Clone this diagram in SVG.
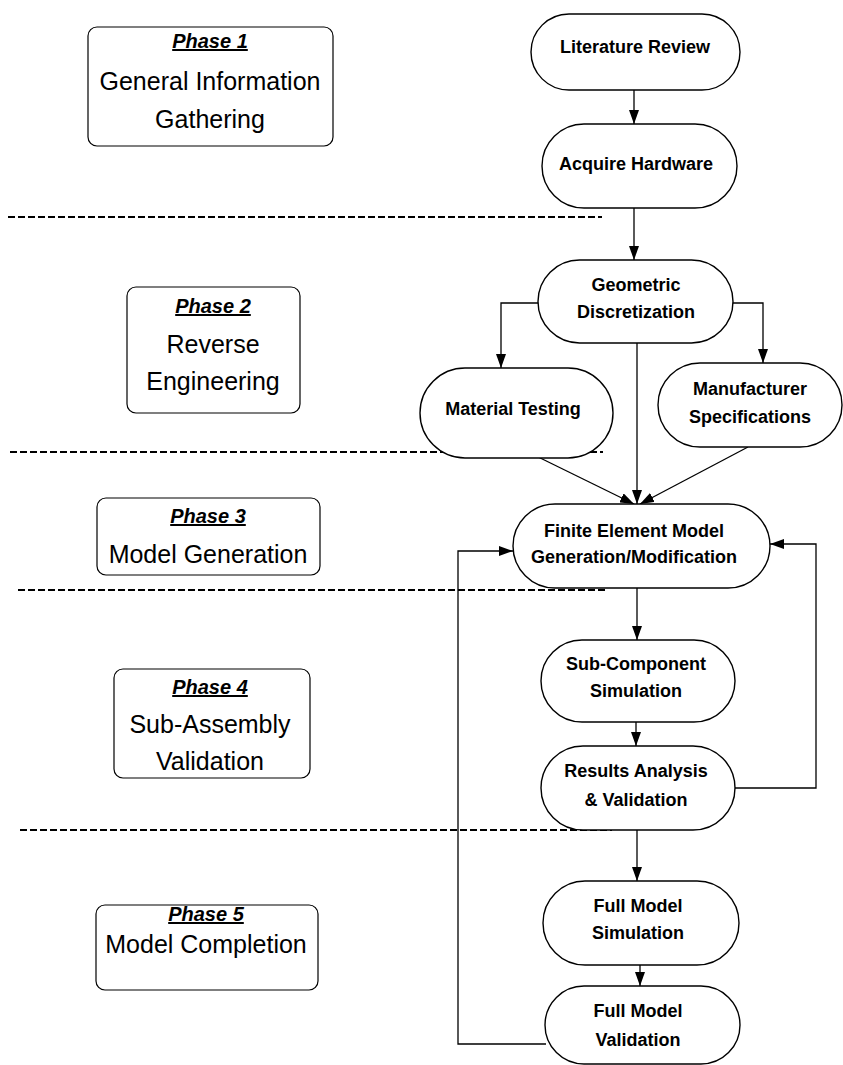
<svg xmlns="http://www.w3.org/2000/svg" width="843" height="1065" viewBox="0 0 843 1065">
<style>
.phase{fill:#fff;stroke:#000;stroke-width:1.2}
.node{fill:#fff;stroke:#000;stroke-width:1.4}
.pt{font-family:"Liberation Sans",Arial,sans-serif;font-size:20px;font-weight:bold;font-style:italic;text-decoration:underline;text-anchor:middle}
.pb{font-family:"Liberation Sans",Arial,sans-serif;font-size:25px;text-anchor:middle}
.nt{font-family:"Liberation Sans",Arial,sans-serif;font-size:18px;font-weight:bold;text-anchor:middle}
.dash{stroke:#000;stroke-width:2;stroke-dasharray:7 3;fill:none}
.conn{stroke:#000;stroke-width:1.3;fill:none;marker-end:url(#arr)}
</style>
<defs>
<marker id="arr" markerWidth="14" markerHeight="10" viewBox="0 0 14 10" refX="14" refY="5" orient="auto" markerUnits="userSpaceOnUse">
<path d="M0,0 L14,5 L0,10 Z" fill="#000"/>
</marker>
</defs>
<rect width="843" height="1065" fill="#fff"/>

<g id="separators">
<line class="dash" x1="8" y1="217" x2="602" y2="217"/>
<line class="dash" x1="10" y1="452" x2="603" y2="452"/>
<line class="dash" x1="18" y1="590" x2="608" y2="590"/>
<line class="dash" x1="20" y1="830" x2="612" y2="830"/>
</g>

<g id="phase1">
<rect class="phase" x="88" y="27" width="245" height="119" rx="9"/>
<text class="pt" x="210" y="48">Phase 1</text>
<text class="pb" x="210" y="90">General Information</text>
<text class="pb" x="210" y="128">Gathering</text>
</g>
<g id="phase2">
<rect class="phase" x="127" y="287" width="173" height="126" rx="9"/>
<text class="pt" x="213" y="313">Phase 2</text>
<text class="pb" x="213" y="353">Reverse</text>
<text class="pb" x="213" y="390">Engineering</text>
</g>
<g id="phase3">
<rect class="phase" x="97" y="498" width="223" height="77" rx="9"/>
<text class="pt" x="208" y="523">Phase 3</text>
<text class="pb" x="208" y="563">Model Generation</text>
</g>
<g id="phase4">
<rect class="phase" x="114" y="669" width="196" height="109" rx="9"/>
<text class="pt" x="210" y="694">Phase 4</text>
<text class="pb" x="210" y="733">Sub-Assembly</text>
<text class="pb" x="210" y="770">Validation</text>
</g>
<g id="phase5">
<rect class="phase" x="96" y="905" width="222" height="85" rx="9"/>
<text class="pt" x="206" y="921">Phase 5</text>
<text class="pb" x="206" y="953">Model Completion</text>
</g>

<g id="connectors">
<path class="conn" d="M634,90 V124"/>
<path class="conn" d="M634,208 V260"/>
<path class="conn" d="M541,303 H501 V368"/>
<path class="conn" d="M730,303 H763 V363"/>
<path class="conn" d="M637,343 V504"/>
<path class="conn" d="M528,452 L634,504"/>
<path class="conn" d="M748,447 L640,504"/>
<path class="conn" d="M637,588 V640"/>
<path class="conn" d="M636,722 V746"/>
<path class="conn" d="M735,788 H816 V544 H770"/>
<path class="conn" d="M637,830 V881"/>
<path class="conn" d="M640,965 V986"/>
<path class="conn" d="M546,1044 H458 V551 H513"/>
</g>

<g id="literature-review">
<rect class="node" x="531" y="14" width="209" height="76" rx="38"/>
<text class="nt" x="635" y="53">Literature Review</text>
</g>
<g id="acquire-hardware">
<rect class="node" x="542" y="124" width="195" height="84" rx="42"/>
<text class="nt" x="636" y="170">Acquire Hardware</text>
</g>
<g id="geometric-discretization">
<rect class="node" x="538" y="260" width="195" height="83" rx="41.5"/>
<text class="nt" x="636" y="291">Geometric</text>
<text class="nt" x="636" y="318">Discretization</text>
</g>
<g id="material-testing">
<rect class="node" x="420" y="368" width="193" height="90" rx="45"/>
<text class="nt" x="513" y="415">Material Testing</text>
</g>
<g id="manufacturer-specifications">
<rect class="node" x="658" y="363" width="184" height="84" rx="42"/>
<text class="nt" x="750" y="395">Manufacturer</text>
<text class="nt" x="750" y="423">Specifications</text>
</g>
<g id="fem-generation">
<rect class="node" x="513" y="504" width="257" height="84" rx="42"/>
<text class="nt" x="634" y="537">Finite Element Model</text>
<text class="nt" x="634" y="563">Generation/Modification</text>
</g>
<g id="sub-component-simulation">
<rect class="node" x="541" y="640" width="194" height="82" rx="41"/>
<text class="nt" x="636" y="670">Sub-Component</text>
<text class="nt" x="636" y="697">Simulation</text>
</g>
<g id="results-analysis">
<rect class="node" x="541" y="746" width="194" height="84" rx="42"/>
<text class="nt" x="636" y="777">Results Analysis</text>
<text class="nt" x="636" y="806">&amp; Validation</text>
</g>
<g id="full-model-simulation">
<rect class="node" x="543" y="881" width="196" height="84" rx="42"/>
<text class="nt" x="638" y="912">Full Model</text>
<text class="nt" x="638" y="939">Simulation</text>
</g>
<g id="full-model-validation">
<rect class="node" x="545" y="986" width="195" height="78" rx="39"/>
<text class="nt" x="638" y="1017">Full Model</text>
<text class="nt" x="638" y="1046">Validation</text>
</g>
</svg>
